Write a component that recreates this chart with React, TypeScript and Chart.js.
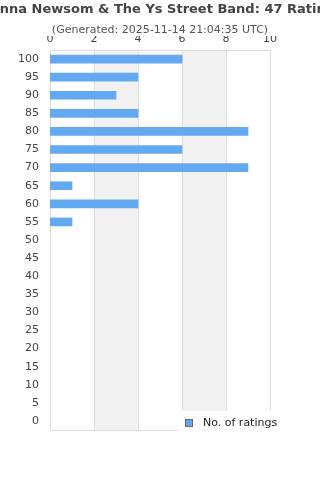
import React, { useEffect, useRef } from "react";
import { Chart, registerables } from "chart.js";

Chart.register(...registerables);

const TITLE = "Joanna Newsom & The Ys Street Band: 47 Ratings";
const SUBTITLE = "(Generated: 2025-11-14 21:04:35 UTC)";
const SERIES_LABEL = "No. of ratings";
const categories = ["100", "95", "90", "85", "80", "75", "70", "65", "60", "55", "50", "45", "40", "35", "30", "25", "20", "15", "10", "5", "0"];
const ratings = [6, 4, 3, 4, 9, 6, 9, 1, 4, 1, 0, 0, 0, 0, 0, 0, 0, 0, 0, 0, 0];
const xMin = 0;
const xMax = 10;
const xStep = 2;
const shadedBands: [number, number][] = [[2, 4], [6, 8]];

const FONT = "'DejaVu Sans', sans-serif";
const BAR_COLOR = "#63a9f2";

const decorPlugin = {
  id: "decor",
  beforeDatasetsDraw(chart: any) {
    const { ctx, chartArea, scales } = chart;
    const x = scales.x;
    ctx.save();
    ctx.fillStyle = "#f2f2f2";
    for (const [a, b] of shadedBands) {
      const x1 = x.getPixelForValue(a);
      const x2 = x.getPixelForValue(b);
      ctx.fillRect(x1, chartArea.top, x2 - x1, chartArea.bottom - chartArea.top);
    }
    ctx.strokeStyle = "#dddddd";
    ctx.lineWidth = 1;
    for (let v = xMin; v <= xMax; v += xStep) {
      const px = Math.round(x.getPixelForValue(v)) + 0.5;
      ctx.beginPath();
      ctx.moveTo(px, chartArea.top);
      ctx.lineTo(px, chartArea.bottom);
      ctx.stroke();
    }
    ctx.beginPath();
    const l = Math.round(chartArea.left) + 0.5;
    const r = Math.round(chartArea.right) + 0.5;
    const t = Math.round(chartArea.top) + 0.5;
    const b = Math.round(chartArea.bottom) + 0.5;
    ctx.moveTo(l, t);
    ctx.lineTo(r, t);
    ctx.moveTo(l, b);
    ctx.lineTo(r, b);
    ctx.stroke();
    ctx.restore();
  },
  afterDraw(chart: any) {
    const { ctx, width } = chart;
    ctx.save();
    ctx.textAlign = "center";
    ctx.textBaseline = "middle";
    ctx.fillStyle = "#444444";
    ctx.font = `bold 13px ${FONT}`;
    ctx.fillText(TITLE, width / 2, 10);
    ctx.fillStyle = "#555555";
    ctx.font = `11px ${FONT}`;
    ctx.fillText(SUBTITLE, width / 2, 30);
    // legend
    ctx.fillStyle = "#ffffff";
    ctx.fillRect(178, 411, 110, 24);
    ctx.fillStyle = BAR_COLOR;
    ctx.fillRect(185.5, 419.5, 7, 7);
    ctx.strokeStyle = "#666666";
    ctx.lineWidth = 1;
    ctx.strokeRect(185.5, 419.5, 7, 7);
    ctx.fillStyle = "#222222";
    ctx.textAlign = "left";
    ctx.font = `11px ${FONT}`;
    ctx.fillText(SERIES_LABEL, 203, 423);
    ctx.restore();
  },
};

export default function App() {
  const ref = useRef<HTMLCanvasElement>(null);
  useEffect(() => {
    if (!ref.current) return;
    const chart = new Chart(ref.current, {
      type: "bar",
      data: {
        labels: categories,
        datasets: [
          {
            label: SERIES_LABEL,
            data: ratings,
            backgroundColor: (c: any) => (c.raw ? BAR_COLOR : "rgba(0,0,0,0)"),
            borderWidth: 0,
            barThickness: 8,
          },
        ],
      },
      options: {
        indexAxis: "y",
        animation: false,
        responsive: false,
        maintainAspectRatio: false,
        layout: { padding: { top: 36, right: 50, bottom: 50, left: 0 } },
        plugins: {
          legend: { display: false },
          title: { display: false },
          tooltip: { enabled: false },
        },
        scales: {
          x: {
            position: "top",
            min: xMin,
            max: xMax,
            ticks: {
              stepSize: xStep,
              color: "#444444",
              font: { family: FONT, size: 11 },
              padding: 4,
            },
            grid: { display: false, drawTicks: false },
            border: { display: false },
            afterFit(scale: any) {
              scale.height = 14;
            },
          },
          y: {
            ticks: {
              color: "#444444",
              font: { family: FONT, size: 11 },
              padding: 11,
              autoSkip: false,
            },
            grid: { display: false, drawTicks: false },
            border: { display: false },
            afterFit(scale: any) {
              scale.width = 50;
            },
          },
        },
      },
      plugins: [decorPlugin],
    });
    return () => chart.destroy();
  }, []);
  return (
    <div style={{ position: "fixed", left: 0, top: 0, width: 320, height: 480, background: "#fff" }}>
      <canvas ref={ref} width={320} height={480} style={{ width: 320, height: 480, display: "block" }} />
    </div>
  );
}
